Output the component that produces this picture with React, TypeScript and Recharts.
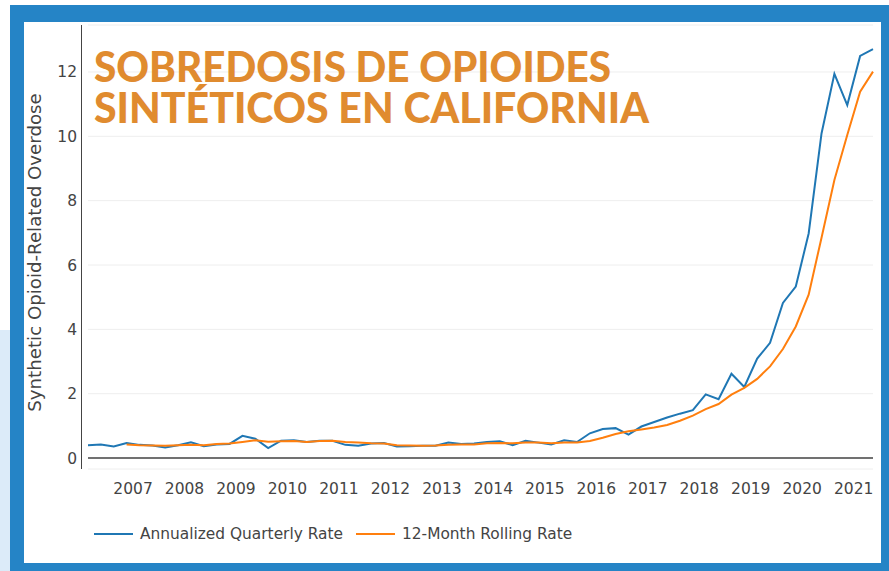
import React from 'react';
import { LineChart, Line, XAxis, YAxis, CartesianGrid, ReferenceLine } from 'recharts';

const quarters = [
  '2006-Q1', '2006-Q2', '2006-Q3', '2006-Q4',
  '2007-Q1', '2007-Q2', '2007-Q3', '2007-Q4',
  '2008-Q1', '2008-Q2', '2008-Q3', '2008-Q4',
  '2009-Q1', '2009-Q2', '2009-Q3', '2009-Q4',
  '2010-Q1', '2010-Q2', '2010-Q3', '2010-Q4',
  '2011-Q1', '2011-Q2', '2011-Q3', '2011-Q4',
  '2012-Q1', '2012-Q2', '2012-Q3', '2012-Q4',
  '2013-Q1', '2013-Q2', '2013-Q3', '2013-Q4',
  '2014-Q1', '2014-Q2', '2014-Q3', '2014-Q4',
  '2015-Q1', '2015-Q2', '2015-Q3', '2015-Q4',
  '2016-Q1', '2016-Q2', '2016-Q3', '2016-Q4',
  '2017-Q1', '2017-Q2', '2017-Q3', '2017-Q4',
  '2018-Q1', '2018-Q2', '2018-Q3', '2018-Q4',
  '2019-Q1', '2019-Q2', '2019-Q3', '2019-Q4',
  '2020-Q1', '2020-Q2', '2020-Q3', '2020-Q4',
  '2021-Q1', '2021-Q2',
];

const annualizedQuarterlyRate = [
  0.40, 0.42, 0.36, 0.47, 0.41, 0.39, 0.33, 0.40, 0.49, 0.37,
  0.42, 0.44, 0.69, 0.60, 0.31, 0.54, 0.55, 0.50, 0.54, 0.54,
  0.41, 0.38, 0.45, 0.47, 0.36, 0.37, 0.38, 0.38, 0.48, 0.44,
  0.45, 0.50, 0.52, 0.40, 0.54, 0.48, 0.42, 0.55, 0.50, 0.77,
  0.90, 0.93, 0.73, 0.98, 1.12, 1.26, 1.38, 1.49, 1.98, 1.83,
  2.62, 2.21, 3.09, 3.58, 4.82, 5.33, 6.98, 10.09, 11.94, 10.97,
  12.50, 12.71,
];

const rolling12MonthRate = [
  null, null, null, 0.42, 0.40, 0.39, 0.38, 0.40, 0.41, 0.40,
  0.44, 0.45, 0.50, 0.55, 0.51, 0.52, 0.53, 0.50, 0.53, 0.54,
  0.50, 0.48, 0.46, 0.45, 0.40, 0.39, 0.38, 0.39, 0.41, 0.42,
  0.42, 0.46, 0.47, 0.46, 0.48, 0.48, 0.46, 0.48, 0.48, 0.53,
  0.63, 0.75, 0.83, 0.89, 0.95, 1.03, 1.16, 1.32, 1.52, 1.68,
  1.97, 2.18, 2.46, 2.85, 3.39, 4.09, 5.08, 6.85, 8.64, 10.04,
  11.39, 12.01,
];

const yearTicks = [2007, 2008, 2009, 2010, 2011, 2012, 2013, 2014, 2015, 2016, 2017, 2018, 2019, 2020, 2021];
const yTicks = [0, 2, 4, 6, 8, 10, 12];
const seriesNames = ['Annualized Quarterly Rate', '12-Month Rolling Rate'];
const seriesColors = ['#1f77b4', '#ff7f0e'];
const titleLines = ['SOBREDOSIS DE OPIOIDES', 'SINTÉTICOS EN CALIFORNIA'];
const yAxisTitle = 'Synthetic Opioid-Related Overdose';

const quarterToTime = (q: string) => {
  const [y, n] = q.split('-Q');
  return Number(y) + (Number(n) - 1) / 4 + 0.125;
};

const data = quarters.map((q, i) => ({
  t: quarterToTime(q),
  annual: annualizedQuarterlyRate[i],
  rolling: rolling12MonthRate[i],
}));

const AXIS_FONT = '"DejaVu Sans", Verdana, sans-serif';
const TITLE_FONT = "Lato, Inter, 'Open Sans', sans-serif";

export default function App() {
  return (
    <div style={{ position: 'absolute', left: 0, top: 0, width: 889, height: 571, background: '#ffffff', overflow: 'hidden' }}>
      <div style={{ position: 'absolute', left: 0, top: 330, width: 12, height: 241, background: '#dcebf9' }} />
      <div style={{ position: 'absolute', left: 10, top: 5, width: 879, height: 566, background: '#2584c6' }} />
      <div style={{ position: 'absolute', left: 24, top: 22, width: 857, height: 541, background: '#ffffff' }} />
      <div style={{ position: 'absolute', left: 0, top: 0 }}>
        <LineChart width={889} height={571} data={data} margin={{ top: 25, right: 16, bottom: 72, left: 28 }}>
          <CartesianGrid vertical={false} stroke="#eeeeee" strokeWidth={1} />
          <XAxis
            dataKey="t"
            type="number"
            domain={['dataMin', 'dataMax']}
            ticks={yearTicks}
            tickFormatter={(v: number) => String(v)}
            axisLine={false}
            tickLine={false}
            tickSize={0}
            tickMargin={14}
            height={30}
            interval={0}
            tick={{ fontSize: 15.5, fill: '#444', fontFamily: AXIS_FONT }}
          />
          <YAxis
            type="number"
            domain={[-0.34, 13.46]}
            allowDataOverflow
            ticks={yTicks}
            axisLine={false}
            tickLine={false}
            tickSize={0}
            tickMargin={11}
            width={60}
            interval={0}
            tick={{ fontSize: 15.5, fill: '#444', fontFamily: AXIS_FONT }}
          />
          <ReferenceLine y={0} stroke="#444" strokeWidth={1.5} />
          <Line type="linear" dataKey="annual" name={seriesNames[0]} stroke={seriesColors[0]} strokeWidth={2} dot={false} isAnimationActive={false} />
          <Line type="linear" dataKey="rolling" name={seriesNames[1]} stroke={seriesColors[1]} strokeWidth={2} dot={false} isAnimationActive={false} />
        </LineChart>
      </div>
      <div style={{ position: 'absolute', left: 81, top: 25, width: 1, height: 444, background: '#444' }} />
      <svg width={889} height={571} style={{ position: 'absolute', left: 0, top: 0, pointerEvents: 'none' }}>
        <text x={94} y={81.5} fill="#e08b2f" fontFamily={TITLE_FONT} fontWeight={900} fontSize={41.5} textLength={517} lengthAdjust="spacingAndGlyphs">{titleLines[0]}</text>
        <text x={94} y={123} fill="#e08b2f" fontFamily={TITLE_FONT} fontWeight={900} fontSize={41.5} textLength={555} lengthAdjust="spacingAndGlyphs">{titleLines[1]}</text>
        <text x={40.5} y={252.5} transform="rotate(-90 40.5 252.5)" textAnchor="middle" fill="#444" fontFamily={AXIS_FONT} fontSize={18.2}>{yAxisTitle}</text>
      </svg>
      <div style={{ position: 'absolute', left: 94, top: 524, height: 20, display: 'flex', alignItems: 'center', fontFamily: AXIS_FONT, fontSize: 15.4, color: '#444', whiteSpace: 'nowrap' }}>
        {seriesNames.map((name, i) => (
          <div key={name} style={{ display: 'flex', alignItems: 'center', marginRight: 13 }}>
            <span style={{ display: 'inline-block', width: 39, height: 2, background: seriesColors[i], marginRight: 7 }} />
            <span>{name}</span>
          </div>
        ))}
      </div>
    </div>
  );
}
